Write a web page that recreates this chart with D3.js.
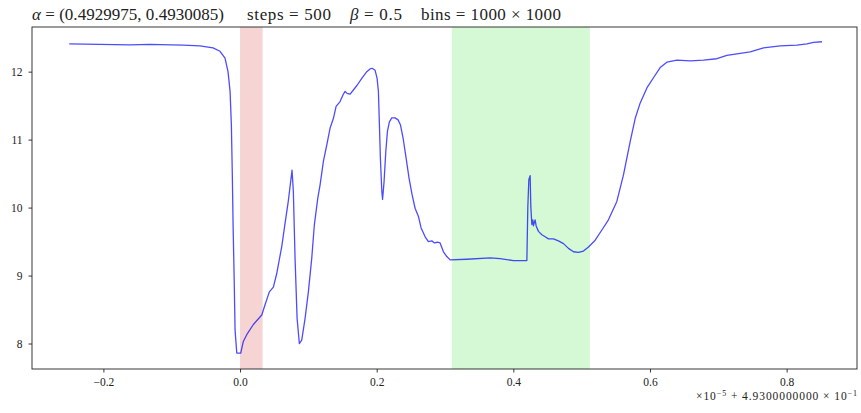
<!DOCTYPE html>
<html>
<head>
<meta charset="utf-8">
<script src="https://cdn.jsdelivr.net/npm/d3@7"></script>
<style>
  body { margin: 0; background: #fff; }
  svg text { font-family: "Liberation Serif", "DejaVu Serif", serif; fill: #222; }
</style>
</head>
<body>
<div id="chart"></div>
<script>
// curve samples: [x offset (x1e-5), value]
const curve = [
  [-0.250, 12.41], [-0.205, 12.40], [-0.161, 12.395], [-0.132, 12.40], [-0.0835, 12.39],
  [-0.0586, 12.38], [-0.0395, 12.35], [-0.0293, 12.30], [-0.022, 12.20], [-0.0176, 12.00],
  [-0.0146, 11.71], [-0.0127, 11.22], [-0.0113, 10.48], [-0.0102, 9.75], [-0.0085, 8.9],
  [-0.0073, 8.2], [-0.0048, 7.86], [0.001, 7.86], [0.0048, 8.03], [0.0098, 8.13],
  [0.0195, 8.28], [0.0318, 8.42], [0.0366, 8.57], [0.0429, 8.76], [0.0488, 8.83],
  [0.0537, 9.03], [0.0611, 9.43], [0.0659, 9.77], [0.0707, 10.10], [0.0761, 10.55],
  [0.078, 10.24], [0.0805, 9.26], [0.0835, 8.37], [0.0868, 8.00], [0.0903, 8.05],
  [0.0952, 8.37], [0.1000, 8.76], [0.1050, 9.26], [0.1088, 9.75], [0.1138, 10.14],
  [0.1171, 10.33], [0.122, 10.68], [0.1269, 10.92], [0.1318, 11.17], [0.1366, 11.31],
  [0.1406, 11.49], [0.1464, 11.56], [0.1508, 11.66], [0.1537, 11.71], [0.1567, 11.68],
  [0.1611, 11.67], [0.1659, 11.73], [0.1713, 11.80], [0.1782, 11.90], [0.1855, 12.00],
  [0.1903, 12.04], [0.1933, 12.05], [0.1977, 12.02], [0.2006, 11.90], [0.2025, 11.71],
  [0.204, 11.22], [0.2054, 10.73], [0.2075, 10.24], [0.2086, 10.12], [0.2108, 10.38],
  [0.2133, 10.82], [0.2157, 11.12], [0.2186, 11.26], [0.2221, 11.32], [0.2269, 11.32],
  [0.2313, 11.29], [0.2347, 11.22], [0.2387, 11.02], [0.243, 10.73], [0.2474, 10.43],
  [0.2518, 10.19], [0.2562, 9.99], [0.2611, 9.87], [0.265, 9.70], [0.2709, 9.57],
  [0.2757, 9.50], [0.2807, 9.51], [0.2845, 9.48], [0.2889, 9.49], [0.2928, 9.48],
  [0.2977, 9.35], [0.3026, 9.28], [0.3075, 9.23], [0.3319, 9.24], [0.366, 9.26],
  [0.3807, 9.25], [0.4001, 9.22], [0.4198, 9.22], [0.4212, 10.01], [0.4227, 10.41],
  [0.4246, 10.47], [0.4256, 10.01], [0.4271, 9.75], [0.4286, 9.82], [0.4294, 9.73],
  [0.4319, 9.82], [0.4334, 9.73], [0.4368, 9.65], [0.4417, 9.60], [0.4466, 9.57],
  [0.4514, 9.54], [0.4587, 9.54], [0.466, 9.51], [0.4734, 9.47], [0.4807, 9.40],
  [0.488, 9.35], [0.4953, 9.34], [0.5026, 9.36], [0.51, 9.42], [0.5198, 9.52],
  [0.5296, 9.67], [0.5392, 9.82], [0.5515, 10.09], [0.5612, 10.48], [0.571, 10.97],
  [0.5783, 11.31], [0.5857, 11.54], [0.5955, 11.76], [0.6051, 11.91], [0.6149, 12.06],
  [0.6247, 12.14], [0.6394, 12.17], [0.6589, 12.16], [0.6783, 12.17], [0.6979, 12.19],
  [0.7126, 12.24], [0.7321, 12.27], [0.7467, 12.29], [0.7662, 12.35], [0.7906, 12.38],
  [0.8151, 12.39], [0.8297, 12.41], [0.8394, 12.43], [0.8517, 12.44]
];

// shaded intervals
const spans = [
  { x0: 0.0, x1: 0.033, color: "#f7d4d4" },
  { x0: 0.31, x1: 0.512, color: "#d4f9d4" }
];

const xTicks = [-0.2, 0.0, 0.2, 0.4, 0.6, 0.8];
const yTicks = [8, 9, 10, 11, 12];

// title pieces: [text, left, right, italic symbol]
const titleParts = [
  ["α", " = (0.4929975, 0.4930085)", 32, 224],
  ["", "steps = 500", 247, 331],
  ["β", " = 0.5", 350, 402],
  ["", "bins = 1000 × 1000", 421, 561]
];

const width = 861, height = 413;
const margin = { top: 27, right: 4, bottom: 44, left: 32 };

const svg = d3.select("#chart").append("svg")
  .attr("width", width)
  .attr("height", height);

const x = d3.scaleLinear()
  .domain([-0.3045, 0.903])
  .range([margin.left, width - margin.right]);
const y = d3.scaleLinear()
  .domain([7.625, 12.657])
  .range([height - margin.bottom, margin.top]);

// spans
svg.selectAll("rect.span")
  .data(spans)
  .join("rect")
  .attr("class", "span")
  .attr("x", d => x(d.x0))
  .attr("width", d => x(d.x1) - x(d.x0))
  .attr("y", margin.top)
  .attr("height", height - margin.bottom - margin.top)
  .attr("fill", d => d.color);

// line
const line = d3.line()
  .x(d => x(d[0]))
  .y(d => y(d[1]));
svg.append("path")
  .datum(curve)
  .attr("d", line)
  .attr("fill", "none")
  .attr("stroke", "#0000ff")
  .attr("stroke-opacity", 0.7)
  .attr("stroke-width", 1.3)
  .attr("stroke-linejoin", "round");

// axes
const xAxis = svg.append("g")
  .attr("transform", `translate(0,${height - margin.bottom})`)
  .call(d3.axisBottom(x).tickValues(xTicks).tickFormat(d3.format(".1f")).tickSize(3.5).tickPadding(5.5));
const yAxis = svg.append("g")
  .attr("transform", `translate(${margin.left},0)`)
  .call(d3.axisLeft(y).tickValues(yTicks).tickFormat(d3.format("d")).tickSize(3.5).tickPadding(6));

[xAxis, yAxis].forEach(g => {
  g.select(".domain").remove();
  g.selectAll("text").style("font-size", "11.5px").attr("fill", "#222");
  g.selectAll("line").attr("stroke", "#222").attr("stroke-width", 0.9);
});

// frame
svg.append("rect")
  .attr("x", margin.left)
  .attr("y", margin.top)
  .attr("width", width - margin.right - margin.left)
  .attr("height", height - margin.bottom - margin.top)
  .attr("fill", "none")
  .attr("stroke", "#222")
  .attr("stroke-width", 0.9);

// offset label
const off = svg.append("text")
  .attr("x", 696)
  .attr("y", 400)
  .attr("textLength", 161)
  .attr("lengthAdjust", "spacing")
  .style("font-size", "11.5px");
off.append("tspan").text("×10");
off.append("tspan").attr("dy", -4.5).style("font-size", "8px").text("−5");
off.append("tspan").attr("dy", 4.5).text(" + 4.9300000000 × 10");
off.append("tspan").attr("dy", -4.5).style("font-size", "8px").text("−1");

// title
svg.selectAll("text.title")
  .data(titleParts)
  .join("text")
  .attr("class", "title")
  .attr("x", d => d[2])
  .attr("y", 20)
  .attr("textLength", d => d[3] - d[2])
  .attr("lengthAdjust", "spacing")
  .style("font-size", "17px")
  .each(function (d) {
    const t = d3.select(this);
    if (d[0]) t.append("tspan").style("font-style", "italic").text(d[0]);
    t.append("tspan").text(d[1]);
  });
</script>
</body>
</html>
